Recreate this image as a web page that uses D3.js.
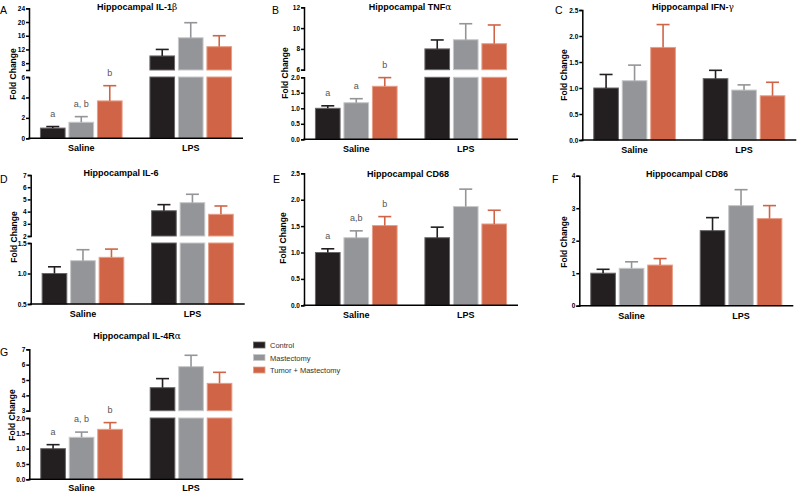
<!DOCTYPE html>
<html><head><meta charset="utf-8">
<script src="https://cdn.jsdelivr.net/npm/d3@7"></script>
<style>
body{margin:0;background:#fff}
svg{display:block;font-family:"Liberation Sans",Arial,sans-serif}
</style>
</head><body>
<svg id="c" width="800" height="492"></svg>
<script>
// ---------- data ----------
const categories = ["Saline", "LPS"];
const seriesNames = ["Control", "Mastectomy", "Tumor + Mastectomy"];
const seriesColors = ["#231f20", "#939598", "#cf6446"];
const seriesStroke = ["#6a6768", "#c6c7c9", "#e69e86"];

// means [Saline, LPS] x [Control, Mastectomy, Tumor+Mastectomy]; errs = SEM
const il1bMeans = [[1.0, 1.57, 3.66], [10.1, 15.4, 12.8]];
const il1bErrs  = [[0.15, 0.55, 1.49], [1.9, 4.4, 3.2]];
const il1bLetters = ["a", "a, b", "b"];
const il1bTicksLow = [0, 2, 4, 6];
const il1bTicksHigh = [8, 12, 16, 20, 24];

const tnfMeans = [[1.0, 1.18, 1.71], [8.0, 8.88, 8.5]];
const tnfErrs  = [[0.08, 0.13, 0.28], [0.86, 1.54, 1.8]];
const tnfLetters = ["a", "a", "b"];
const tnfTicksLow = [0, 0.5, 1.0, 1.5, 2.0];
const tnfTicksHigh = [6, 8, 10, 12];

const ifnMeans = [[1.0, 1.14, 1.78], [1.18, 0.96, 0.85]];
const ifnErrs  = [[0.26, 0.3, 0.44], [0.16, 0.1, 0.26]];
const ifnTicks = [0, 0.5, 1.0, 1.5, 2.0, 2.5];

const il6Means = [[1.0, 1.21, 1.265], [4.07, 4.73, 3.78]];
const il6Errs  = [[0.11, 0.18, 0.135], [0.5, 0.69, 0.68]];
const il6TicksLow = [0.5, 1.0, 1.5];
const il6TicksHigh = [2, 3, 4, 5, 6, 7];

const cd68Means = [[1.0, 1.28, 1.51], [1.28, 1.87, 1.54]];
const cd68Errs  = [[0.07, 0.13, 0.17], [0.2, 0.33, 0.26]];
const cd68Letters = ["a", "a,b", "b"];
const cd68Ticks = [0, 0.5, 1.0, 1.5, 2.0, 2.5];

const cd86Means = [[1.0, 1.15, 1.25], [2.31, 3.08, 2.68]];
const cd86Errs  = [[0.12, 0.2, 0.2], [0.4, 0.49, 0.4]];
const cd86Ticks = [0, 1, 2, 3, 4];

const il4Means = [[1.0, 1.37, 1.63], [4.5, 5.87, 4.78]];
const il4Errs  = [[0.13, 0.17, 0.22], [0.59, 0.74, 0.72]];
const il4Letters = ["a", "a, b", "b"];
const il4TicksLow = [0, 0.5, 1.0, 1.5, 2.0];
const il4TicksHigh = [3, 4, 5, 6, 7];

// ---------- layout ----------
const f1 = d3.format(".1f"), fd = d3.format("d");
const panels = [
  {label:"A", title:"Hippocampal IL-1", greek:"β", means:il1bMeans, errs:il1bErrs, letters:il1bLetters,
   ax:29, tx:137, ty:10, lx:0, ly:14, yx:16, yy:74, xo:13,
   segs:[{d:[0,6], r:[138.3,77], t:il1bTicksLow, f:fd}, {d:[6,24], r:[70,8.3], t:il1bTicksHigh, f:fd}]},
  {label:"B", title:"Hippocampal TNF", greek:"α", means:tnfMeans, errs:tnfErrs, letters:tnfLetters,
   ax:304, tx:410, ty:10, lx:272, ly:14, yx:288, yy:73, xo:13,
   segs:[{d:[0,2], r:[139.3,77.3], t:tnfTicksLow, f:f1}, {d:[6,12], r:[69.7,7.3], t:tnfTicksHigh, f:fd}]},
  {label:"C", title:"Hippocampal IFN-", greek:"γ", means:ifnMeans, errs:ifnErrs, letters:null,
   ax:582.3, tx:693, ty:10, lx:555, ly:14, yx:567, yy:75, xo:13,
   segs:[{d:[0,2.5], r:[140,10], t:ifnTicks, f:f1}]},
  {label:"D", title:"Hippocampal IL-6", greek:"", means:il6Means, errs:il6Errs, letters:null,
   ax:30.7, tx:121, ty:176, lx:0, ly:183, yx:17, yy:237, xo:13,
   segs:[{d:[0.5,1.5], r:[304,243], t:il6TicksLow, f:f1}, {d:[2,7], r:[236,175], t:il6TicksHigh, f:fd}]},
  {label:"E", title:"Hippocampal CD68", greek:"", means:cd68Means, errs:cd68Errs, letters:cd68Letters,
   ax:304, tx:408, ty:177, lx:273, ly:183, yx:286, yy:238, xo:13,
   segs:[{d:[0,2.5], r:[305.3,173.3], t:cd68Ticks, f:f1}]},
  {label:"F", title:"Hippocampal CD86", greek:"", means:cd86Means, errs:cd86Errs, letters:null,
   ax:579.3, tx:687, ty:177, lx:552, ly:183, yx:567, yy:242, xo:13,
   segs:[{d:[0,4], r:[305.7,175.7], t:cd86Ticks, f:fd}]},
  {label:"G", title:"Hippocampal IL-4R", greek:"α", means:il4Means, errs:il4Errs, letters:il4Letters,
   ax:29.3, tx:137, ty:339, lx:0, ly:356, yx:15, yy:415, xo:11.3,
   segs:[{d:[0,2], r:[479.3,418], t:il4TicksLow, f:f1}, {d:[3,7], r:[410.7,349.3], t:il4TicksHigh, f:fd}]}
];

const svg = d3.select("#c");
svg.append("rect").attr("width",800).attr("height",492).attr("fill","#fff");

panels.forEach(p => {
  const g = svg.append("g");
  const axW = 214;
  const x0 = d3.scaleBand().domain(categories).range([p.ax, p.ax + axW]).paddingInner(0.245).paddingOuter(0.1);
  const x1 = d3.scaleBand().domain(seriesNames).range([0, x0.bandwidth()]).paddingInner(0.1).paddingOuter(0);
  const segs = p.segs.map(s => Object.assign({}, s, {y: d3.scaleLinear().domain(s.d).range(s.r)}));
  const baseY = segs[0].r[0];

  // bars
  categories.forEach((cat, ci) => {
    seriesNames.forEach((sn, si) => {
      const m = p.means[ci][si], e = p.errs[ci][si];
      const bx = x0(cat) + x1(sn), bw = x1.bandwidth();
      segs.forEach(s => {
        if (m <= s.d[0]) return;
        const top = Math.min(m, s.d[1]);
        g.append("rect")
          .attr("x", bx + 0.5).attr("width", bw - 1)
          .attr("y", s.y(top)).attr("height", s.y(s.d[0]) - s.y(top))
          .attr("fill", seriesColors[si]).attr("stroke", seriesStroke[si]).attr("stroke-width", 1);
      });
      // error bar
      const s = segs.find(s => m >= s.d[0] && m <= s.d[1]) || segs[segs.length-1];
      const cx = bx + bw / 2;
      const yT = s.y(Math.min(m + e, s.d[1]));
      g.append("line").attr("x1", cx).attr("x2", cx).attr("y1", s.y(m)).attr("y2", yT)
        .attr("stroke", seriesColors[si]).attr("stroke-width", 1.6);
      g.append("line").attr("x1", cx - 6.5).attr("x2", cx + 6.5).attr("y1", yT).attr("y2", yT)
        .attr("stroke", seriesColors[si]).attr("stroke-width", 1.6);
      if (p.letters && ci === 0) {
        g.append("text").attr("x", cx).attr("y", yT - 10)
          .attr("text-anchor", "middle").attr("font-size", 9).attr("fill", "#555")
          .text(p.letters[si]);
      }
    });
  });

  // y axes
  segs.forEach(s => {
    const a = g.append("g").attr("transform", `translate(${p.ax},0)`)
      .call(d3.axisLeft(s.y).tickValues(s.t).tickFormat(s.f).tickSize(3).tickSizeOuter(3).tickPadding(1));
    a.selectAll("path,line").attr("stroke", "#000").attr("stroke-width", 1.5);
    a.selectAll("text").attr("font-size", 6.5).attr("font-weight", "bold").attr("fill", "#000")
      .attr("font-family", '"Liberation Sans",Arial,sans-serif');
  });

  // x axis
  g.append("line").attr("x1", p.ax - 0.75).attr("x2", p.ax + axW).attr("y1", baseY).attr("y2", baseY)
    .attr("stroke", "#000").attr("stroke-width", 1.5);
  categories.forEach(cat => {
    g.append("text").attr("x", x0(cat) + x0.bandwidth() / 2).attr("y", baseY + p.xo)
      .attr("text-anchor", "middle").attr("font-size", 9).attr("font-weight", "bold").text(cat);
  });

  // y label
  g.append("text").attr("transform", `translate(${p.yx},${p.yy}) rotate(-90)`)
    .attr("text-anchor", "middle").attr("font-size", 8.5).attr("font-weight", "bold").text("Fold Change");

  // title
  const t = g.append("text").attr("x", p.tx).attr("y", p.ty).attr("text-anchor", "middle")
    .attr("font-size", 9).attr("font-weight", "bold");
  t.append("tspan").text(p.title);
  if (p.greek) t.append("tspan").attr("font-weight", "normal").attr("font-family", '"DejaVu Serif",serif').text(p.greek);

  // panel letter
  g.append("text").attr("x", p.lx).attr("y", p.ly).attr("font-size", 10.5).text(p.label);
});

// legend
const leg = svg.append("g");
seriesNames.forEach((sn, i) => {
  const yy = 342 + i * 12.5;
  leg.append("rect").attr("x", 253.5).attr("y", yy).attr("width", 11.5).attr("height", 6)
    .attr("fill", seriesColors[i]).attr("stroke", seriesStroke[i]).attr("stroke-width", 0.8);
  leg.append("text").attr("x", 270).attr("y", yy + 6).attr("font-size", 7.5).attr("fill", "#333").text(sn);
});
</script>
</body></html>
